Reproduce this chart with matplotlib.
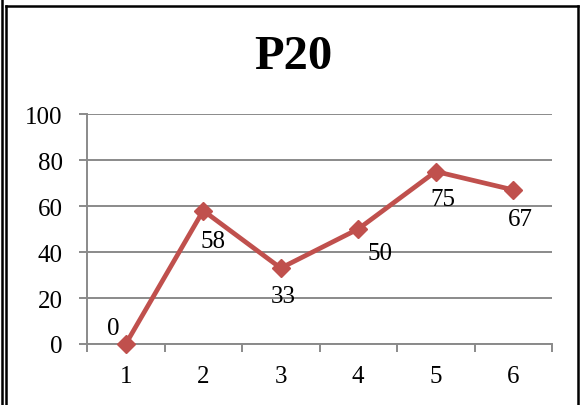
import matplotlib
matplotlib.use("Agg")
import matplotlib.pyplot as plt
from matplotlib.lines import Line2D

# Series data
categories = ["1", "2", "3", "4", "5", "6"]
values = [0, 58, 33, 50, 75, 67]
y_ticks = [0, 20, 40, 60, 80, 100]
title = "P20"

# Label offsets (pixels, x right / y down) for each data label
label_offsets_px = [(-13, -16), (10, 30), (3, 28), (22, 24), (7, 28), (7, 29)]

DPI = 100
W, H = 582, 406
plt.rcParams["font.family"] = ["Liberation Serif", "DejaVu Serif"]

fig = plt.figure(figsize=(W / DPI, H / DPI), dpi=DPI)
fig.patch.set_facecolor("white")

ax = fig.add_axes([87 / W, 1 - 345 / H, (552 - 87) / W, (345 - 115) / H])

line_color = "#C0504D"
grid_color = "#8A8A8A"

xs = list(range(1, len(categories) + 1))
ax.plot(xs, values, color=line_color, linewidth=3.4, marker="D",
        markersize=9.5, markerfacecolor=line_color, markeredgecolor=line_color,
        zorder=5, clip_on=False)

px2pt = 72 / DPI
for x, v, (dx, dy) in zip(xs, values, label_offsets_px):
    ax.annotate(str(v), (x, v), xytext=(dx * px2pt, -dy * px2pt),
                textcoords="offset points", ha="center", va="center",
                fontsize=18, color="black", zorder=6)

ax.set_xlim(0.5, len(categories) + 0.5)
ax.set_ylim(0, 100)
ax.set_yticks(y_ticks)
ax.set_yticklabels([str(t) for t in y_ticks])
ax.yaxis.grid(True, color=grid_color, linewidth=1.4)
ax.set_axisbelow(True)

# Category boundaries as ticks, labels centred between them
ax.set_xticks([i + 0.5 for i in range(0, len(categories) + 1)])
ax.set_xticklabels([])
ax.set_xticks(xs, minor=True)
ax.set_xticklabels(categories, minor=True)
ax.tick_params(axis="x", which="major", direction="out", length=5.5,
               width=1.4, color=grid_color)
ax.tick_params(axis="x", which="minor", length=0, pad=15, labelsize=18)
ax.tick_params(axis="y", direction="out", length=5.5, width=1.4,
               color=grid_color, pad=12, labelsize=18)

for side in ["top", "right"]:
    ax.spines[side].set_visible(False)
for side in ["left", "bottom"]:
    ax.spines[side].set_color(grid_color)
    ax.spines[side].set_linewidth(1.4)

fig.text(293 / W, 1 - 57 / H, title, ha="center", va="center",
         fontsize=35, fontweight="bold")

# Chart frame
def fline(x0, y0, x1, y1, lw=1.8):
    fig.add_artist(Line2D([x0 / W, x1 / W], [1 - y0 / H, 1 - y1 / H],
                          color="black", linewidth=lw))

fline(1.5, 0, 1.5, H)
fline(6, 7, 6, H)
fline(6, 7, 578, 7)
fline(578, 7, 578, H)

fig.savefig("out.png", dpi=DPI)
